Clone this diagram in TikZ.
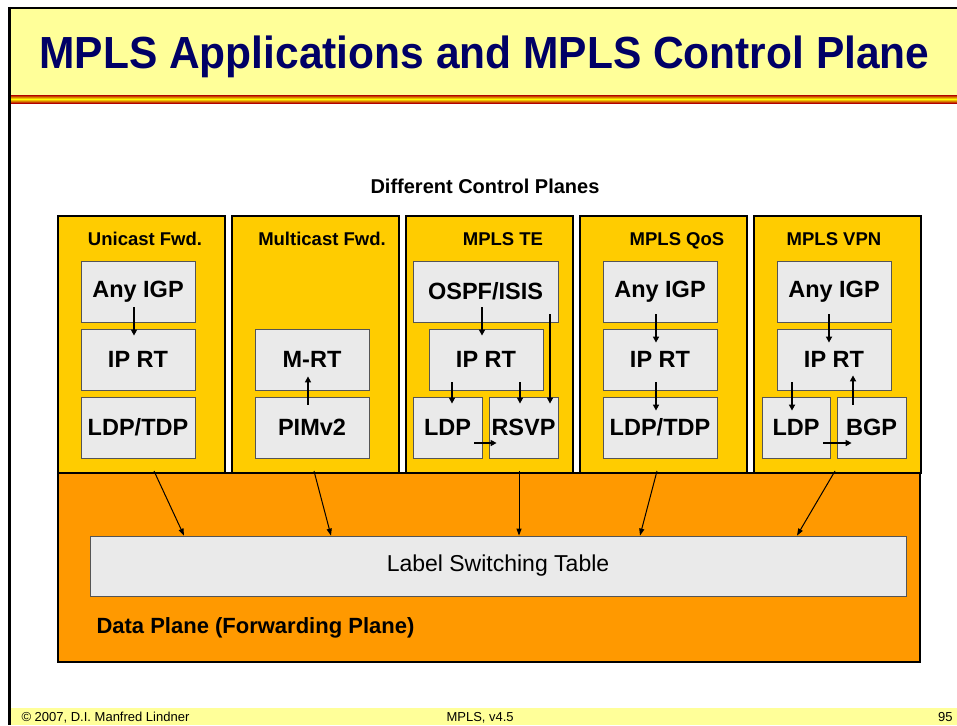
\documentclass[tikz,border=0pt]{standalone}
\usepackage{graphicx}
\usepackage{fontspec}
\setmainfont{Liberation Sans}
\usetikzlibrary{arrows.meta}
\definecolor{titlebg}{HTML}{FFFF99}
\definecolor{titleblue}{HTML}{000066}
\definecolor{colyellow}{HTML}{FFCC00}
\definecolor{dporange}{HTML}{FF9900}
\definecolor{boxgray}{HTML}{EAEAEA}
\definecolor{boxline}{HTML}{555555}
\begin{document}
\begin{tikzpicture}[x=1pt,y=-1pt,
  plane/.style={draw=black,line width=2pt,fill=colyellow,minimum width=167pt,minimum height=257pt,inner sep=0pt},
  blk/.style={draw=boxline,line width=0.8pt,fill=boxgray,minimum width=114pt,minimum height=61pt,inner sep=0pt,font=\fontsize{23.5}{26}\selectfont\bfseries},
  coltitle/.style={anchor=base,font=\fontsize{18.5}{21}\selectfont\bfseries},
  foot/.style={anchor=base west,font=\fontsize{13}{15}\selectfont},
  arr/.style={line width=1.5pt,-{Triangle[length=6pt,width=6pt]}},
  darr/.style={line width=1pt,-{Triangle[length=7pt,width=5pt]}}]
\useasboundingbox[fill=white] (0,0) rectangle (957,725);
% slide frame
\fill[titlebg] (10,8) rectangle (957,95);
\shade[top color=red!70!black,bottom color=yellow] (10,95) rectangle (957,99);
\shade[top color=yellow,bottom color=red!70!black] (10,99) rectangle (957,103);
\draw[line width=2pt] (8,8) -- (957,8);
\draw[line width=3pt] (9.5,7) -- (9.5,725);
\node[anchor=base west,text=titleblue,font=\fontsize{45}{50}\selectfont\bfseries] (title) at (36,68) {\scalebox{0.944}[1]{MPLS Applications and MPLS Control Plane}};
\fill[titlebg] (11,708) rectangle (957,725);
\node[foot] (copy) at (18,721) {\textcopyright\ 2007, D.I. Manfred Lindner};
\node[foot] (ver) at (443,721) {MPLS, v4.5};
\node[foot,anchor=base east] (page) at (956,721) {95};

\node[anchor=base,font=\fontsize{20}{24}\selectfont\bfseries] (dcp) at (485,193) {Different Control Planes};

% control planes
\node[plane] (c1) at (141.5,344.5) {};
\node[plane] (c2) at (315.5,344.5) {};
\node[plane] (c3) at (489.5,344.5) {};
\node[plane] (c4) at (663.5,344.5) {};
\node[plane] (c5) at (837.5,344.5) {};
\node[coltitle] (t1) at (145,245) {Unicast Fwd.};
\node[coltitle] (t2) at (322,245) {Multicast Fwd.};
\node[coltitle] (t3) at (503,245) {MPLS TE};
\node[coltitle] (t4) at (677,245) {MPLS QoS};
\node[coltitle] (t5) at (834,245) {MPLS VPN};

% data plane
\node[draw=black,line width=2pt,fill=dporange,minimum width=862pt,minimum height=189pt,inner sep=0pt] (dp) at (489,567.5) {};
\node[draw=boxline,line width=0.8pt,fill=boxgray,minimum width=816pt,minimum height=60pt,font=\fontsize{23}{26}\selectfont] (lst) at (498,566) {Label Switching Table};
\node[anchor=base west,font=\fontsize{22}{26}\selectfont\bfseries] (dpl) at (93,633) {Data Plane (Forwarding Plane)};

% unicast
\node[blk] (a1) at (138,291.5) {Any IGP};
\node[blk] (r1) at (138,359.5) {IP RT};
\node[blk] (l1) at (138,427.5) {LDP/TDP};
\draw[arr] ([xshift=-4pt,yshift=15pt]a1.south) -- ([xshift=-4pt,yshift=-7pt]r1.north);

% multicast
\node[blk] (m2) at (312,359.5) {M-RT};
\node[blk] (p2) at (312,427.5) {PIMv2};
\draw[arr] ([xshift=-4pt,yshift=-8pt]p2.north) -- ([xshift=-4pt,yshift=14pt]m2.south);

% traffic engineering
\node[blk,minimum width=145pt] (o3) at (485.5,291.5) {OSPF/ISIS};
\node[blk] (r3) at (486,359.5) {IP RT};
\node[blk,minimum width=69pt] (l3) at (447.5,427.5) {LDP};
\node[blk,minimum width=69pt] (s3) at (523.5,427.5) {RSVP};
\draw[arr] ([xshift=-3.5pt,yshift=15pt]o3.south) -- ([xshift=-4pt,yshift=-7pt]r3.north);
\draw[arr] ([xshift=64.5pt,yshift=8pt]o3.south) -- ([xshift=26.5pt,yshift=-7pt]s3.north);
\draw[arr] ([xshift=-34pt,yshift=8pt]r3.south) -- ([xshift=4.5pt,yshift=-7pt]l3.north);
\draw[arr] ([xshift=34pt,yshift=8pt]r3.south) -- ([xshift=-3.5pt,yshift=-7pt]s3.north);
\draw[arr] ([xshift=-8pt,yshift=-15.5pt]l3.east) -- ([xshift=8pt,yshift=-15.5pt]s3.west);

% qos
\node[blk] (a4) at (660,291.5) {Any IGP};
\node[blk] (r4) at (660,359.5) {IP RT};
\node[blk] (l4) at (660,427.5) {LDP/TDP};
\draw[arr] ([xshift=-4pt,yshift=8pt]a4.south) -- ([xshift=-4pt,yshift=-14pt]r4.north);
\draw[arr] ([xshift=-4pt,yshift=8pt]r4.south) -- ([xshift=-4pt,yshift=-14pt]l4.north);

% vpn
\node[blk] (a5) at (834,291.5) {Any IGP};
\node[blk] (r5) at (834,359.5) {IP RT};
\node[blk,minimum width=68pt] (l5) at (796,427.5) {LDP};
\node[blk,minimum width=69pt] (b5) at (871.5,427.5) {BGP};
\draw[arr] ([xshift=-5pt,yshift=8pt]a5.south) -- ([xshift=-5pt,yshift=-14pt]r5.north);
\draw[arr] ([xshift=-42pt,yshift=8pt]r5.south) -- ([xshift=-4pt,yshift=-14pt]l5.north);
\draw[arr] ([xshift=-18.5pt,yshift=-8pt]b5.north) -- ([xshift=19pt,yshift=15pt]r5.south);
\draw[arr] ([xshift=-7pt,yshift=-15.5pt]l5.east) -- ([xshift=15pt,yshift=-15.5pt]b5.west);

% into the table
\draw[darr] ([xshift=12.5pt,yshift=3pt]c1.south) -- ([xshift=-314pt]lst.north);
\draw[darr] ([xshift=-1.5pt,yshift=3pt]c2.south) -- ([xshift=-167pt]lst.north);
\draw[darr] ([xshift=29.5pt,yshift=3pt]c3.south) -- ([xshift=21pt]lst.north);
\draw[darr] ([xshift=-6.5pt,yshift=3pt]c4.south) -- ([xshift=142pt]lst.north);
\draw[darr] ([xshift=-2.5pt,yshift=3pt]c5.south) -- ([xshift=299pt]lst.north);
\end{tikzpicture}
\end{document}
